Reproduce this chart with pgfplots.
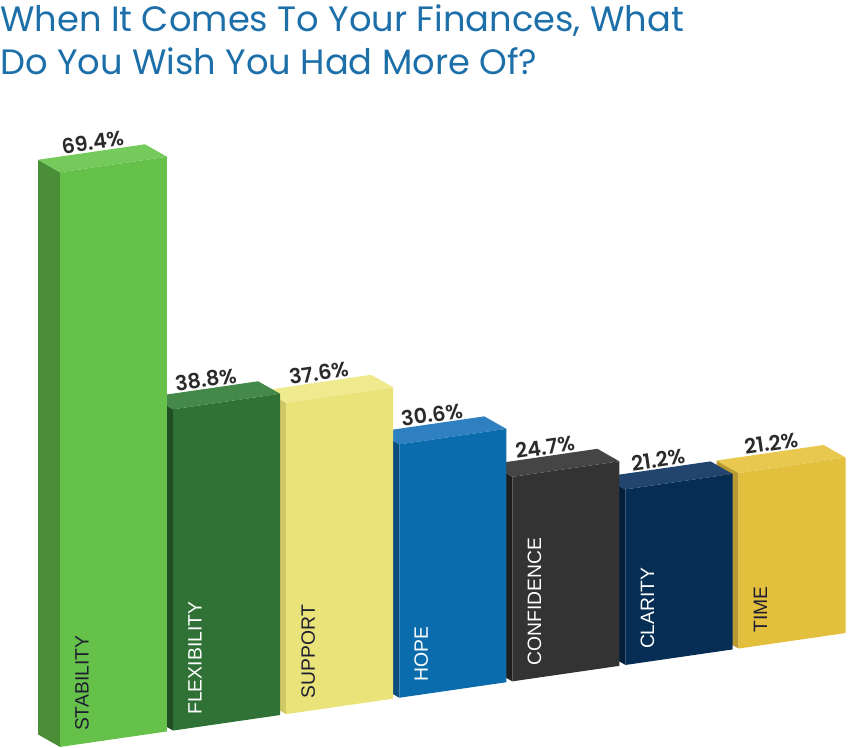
\documentclass[border=0pt]{standalone}
\usepackage{pgfplots}
\pgfplotsset{compat=1.18}
\usepackage{fontspec}
\setmainfont{Liberation Sans}
\newfontfamily\poppins{Poppins}
\newfontfamily\poppinsmed{Poppins SemiBold}

\definecolor{titleblue}{HTML}{1D6FA9}
\definecolor{valgray}{HTML}{2B2B2B}
\definecolor{darktxt}{HTML}{1E1E30}
% STABILITY
\definecolor{stabF}{HTML}{66C14A}\definecolor{stabS}{HTML}{4A8F38}\definecolor{stabT}{HTML}{74CA5A}
% FLEXIBILITY
\definecolor{flexF}{HTML}{307236}\definecolor{flexS}{HTML}{1F4D24}\definecolor{flexT}{HTML}{44894A}
% SUPPORT
\definecolor{suppF}{HTML}{EAE37A}\definecolor{suppS}{HTML}{CFC865}\definecolor{suppT}{HTML}{F0EA8F}
% HOPE
\definecolor{hopeF}{HTML}{0A6CAD}\definecolor{hopeS}{HTML}{0B4E7E}\definecolor{hopeT}{HTML}{2F80C0}
% CONFIDENCE
\definecolor{confF}{HTML}{333333}\definecolor{confS}{HTML}{1E1E1E}\definecolor{confT}{HTML}{454545}
% CLARITY
\definecolor{clarF}{HTML}{062E54}\definecolor{clarS}{HTML}{031F3B}\definecolor{clarT}{HTML}{21456F}
% TIME
\definecolor{timeF}{HTML}{E3BF3E}\definecolor{timeS}{HTML}{B89A30}\definecolor{timeT}{HTML}{E9C850}

% #1 position, #2 value, #3 front, #4 side, #5 top, #6 label, #7 label colour
\newcommand\threebar[7]{%
  \pgfmathsetmacro\xl{#1-0.473}%
  \pgfmathsetmacro\xr{#1+0.473}%
  \pgfmathsetmacro\xlb{#1-0.473-0.1945}%
  \pgfmathsetmacro\xrb{#1+0.473-0.1945}%
  \pgfmathsetmacro\vb{#2+1.895}%
  \addplot[fill=#4,draw=none] coordinates {(\xl,0) (\xl,#2) (\xlb,\vb) (\xlb,1.895)} -- cycle;
  \addplot[fill=#5,draw=none] coordinates {(\xl,#2) (\xr,#2) (\xrb,\vb) (\xlb,\vb)} -- cycle;
  \addplot[fill=#3,draw=none] coordinates {(\xl,0) (\xr,0) (\xr,#2) (\xl,#2)} -- cycle;
  \node[anchor=base, rotate=8.25, inner sep=0pt, text=valgray,
        font=\poppinsmed\fontsize{11.8}{13}\selectfont]
        at (axis cs:{#1-0.175},{#2+2.1}) {#2\%};
  \node[anchor=west, rotate=90, inner sep=0pt, text=#7,
        font=\fontsize{11}{12}\selectfont]
        at (axis cs:{#1-0.279},1.5) {#6};
}

\begin{document}
\begin{tikzpicture}
\begin{axis}[
  hide axis, clip=false,
  x={(2.262cm,0.328cm)}, y={(0cm,0.1656cm)},
  xmin=-0.8, xmax=6.6, ymin=0, ymax=75,
  anchor=origin, at={(2.27cm,0.176cm)},
]
\threebar{6}{21.2}{timeF}{timeS}{timeT}{TIME}{darktxt}
\threebar{5}{21.2}{clarF}{clarS}{clarT}{CLARITY}{white}
\threebar{4}{24.7}{confF}{confS}{confT}{CONFIDENCE}{white}
\threebar{3}{30.6}{hopeF}{hopeS}{hopeT}{HOPE}{white}
\threebar{2}{37.6}{suppF}{suppS}{suppT}{SUPPORT}{darktxt}
\threebar{1}{38.8}{flexF}{flexS}{flexT}{FLEXIBILITY}{white}
\threebar{0}{69.4}{stabF}{stabS}{stabT}{STABILITY}{darktxt}
\end{axis}
\node[anchor=north west, inner sep=0pt, align=left, text=titleblue,
      font=\poppins\fontsize{20.05}{24.6}\selectfont] at (0,14.88cm)
  {When It Comes To Your Finances, What\\Do You Wish You Had More Of?};
\pgfresetboundingbox
\path[use as bounding box] (0,0) rectangle (17cm,14.96cm);
\end{tikzpicture}
\end{document}
